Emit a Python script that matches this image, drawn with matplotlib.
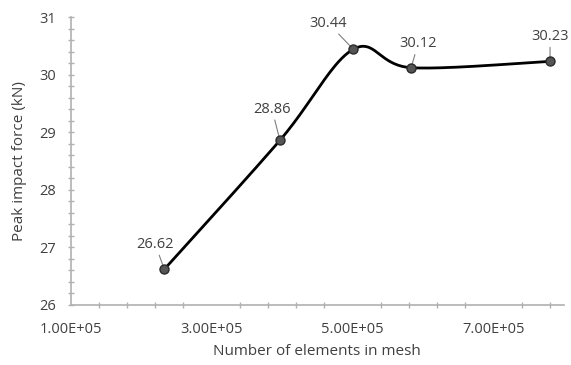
import numpy as np
import matplotlib
matplotlib.use("Agg")
import matplotlib.pyplot as plt
from matplotlib.ticker import MultipleLocator, FuncFormatter

# data
elements = [233000, 397000, 501000, 583000, 780000]
peak_force = [26.62, 28.86, 30.44, 30.12, 30.23]
labels = ["26.62", "28.86", "30.44", "30.12", "30.23"]
# label centre offsets in points (dx, dy) from each marker
label_offsets = [(-6.5, 18), (-5.8, 22.5), (-18, 18.7), (5, 17.3), (0, 18)]

XMIN, XMAX, YMIN, YMAX = 1e5, 8e5, 26, 31
GREY = "#404040"
AXIS = "#b0b0b0"

plt.rcParams["font.family"] = ["Open Sans", "DejaVu Sans"]

fig = plt.figure(figsize=(5.71, 3.65), dpi=100)
ax = fig.add_axes([0.1235, 0.1644, 0.8645, 0.789])


def smooth(xs, ys, w=494.0, h=288.0, n=40):
    # excel-like smoothed line: bezier through points, computed in screen space
    p = np.column_stack([(np.array(xs) - XMIN) / (XMAX - XMIN) * w,
                         (np.array(ys) - YMIN) / (YMAX - YMIN) * h])
    out = []
    t = np.linspace(0, 1, n)[:, None]
    for i in range(len(p) - 1):
        p0 = p[i - 1] if i > 0 else p[i]
        p3 = p[i + 2] if i + 2 < len(p) else p[i + 1]
        c1 = p[i] + (p[i + 1] - p0) / 6
        c2 = p[i + 1] - (p3 - p[i]) / 6
        seg = ((1 - t) ** 3 * p[i] + 3 * (1 - t) ** 2 * t * c1
               + 3 * (1 - t) * t ** 2 * c2 + t ** 3 * p[i + 1])
        out.append(seg)
    s = np.vstack(out)
    return s[:, 0] / w * (XMAX - XMIN) + XMIN, s[:, 1] / h * (YMAX - YMIN) + YMIN


sx, sy = smooth(elements, peak_force)
ax.plot(sx, sy, color="black", lw=2, zorder=3)
ax.plot(elements, peak_force, "o", ms=6.5, color="#555555",
        mec="#2a2a2a", mew=1, zorder=4)

for x, y, lab, (dx, dy) in zip(elements, peak_force, labels, label_offsets):
    ax.annotate(lab, (x, y), xytext=(dx, dy), textcoords="offset points",
                ha="center", va="center", fontsize=10.5, color=GREY,
                arrowprops=dict(arrowstyle="-", color="#7f7f7f", lw=0.8,
                                shrinkA=0.5, shrinkB=3))

ax.set_xlim(XMIN, XMAX)
ax.set_ylim(YMIN, YMAX)
ax.xaxis.set_major_locator(MultipleLocator(2e5, offset=1e5))
ax.xaxis.set_minor_locator(MultipleLocator(4e4, offset=2e4))
ax.yaxis.set_major_locator(MultipleLocator(1))
ax.yaxis.set_minor_locator(MultipleLocator(0.2))
ax.xaxis.set_major_formatter(FuncFormatter(
    lambda v, pos: "{:.2E}".format(v)))

for side in ["top", "right"]:
    ax.spines[side].set_visible(False)
for side in ["left", "bottom"]:
    ax.spines[side].set_color(AXIS)
    ax.spines[side].set_linewidth(1.2)
ax.tick_params(which="both", direction="inout", color=AXIS, width=1,
               labelcolor=GREY, labelsize=10.5)
ax.tick_params(which="both", length=5)
ax.tick_params(axis="x", which="major", length=0, pad=12)
ax.tick_params(axis="y", which="major", pad=8)

ax.set_xlabel("Number of elements in mesh", fontsize=11, color=GREY, labelpad=5)
ax.set_ylabel("Peak impact force (kN)", fontsize=11, color=GREY, labelpad=9)

fig.savefig("out.png", dpi=100)
